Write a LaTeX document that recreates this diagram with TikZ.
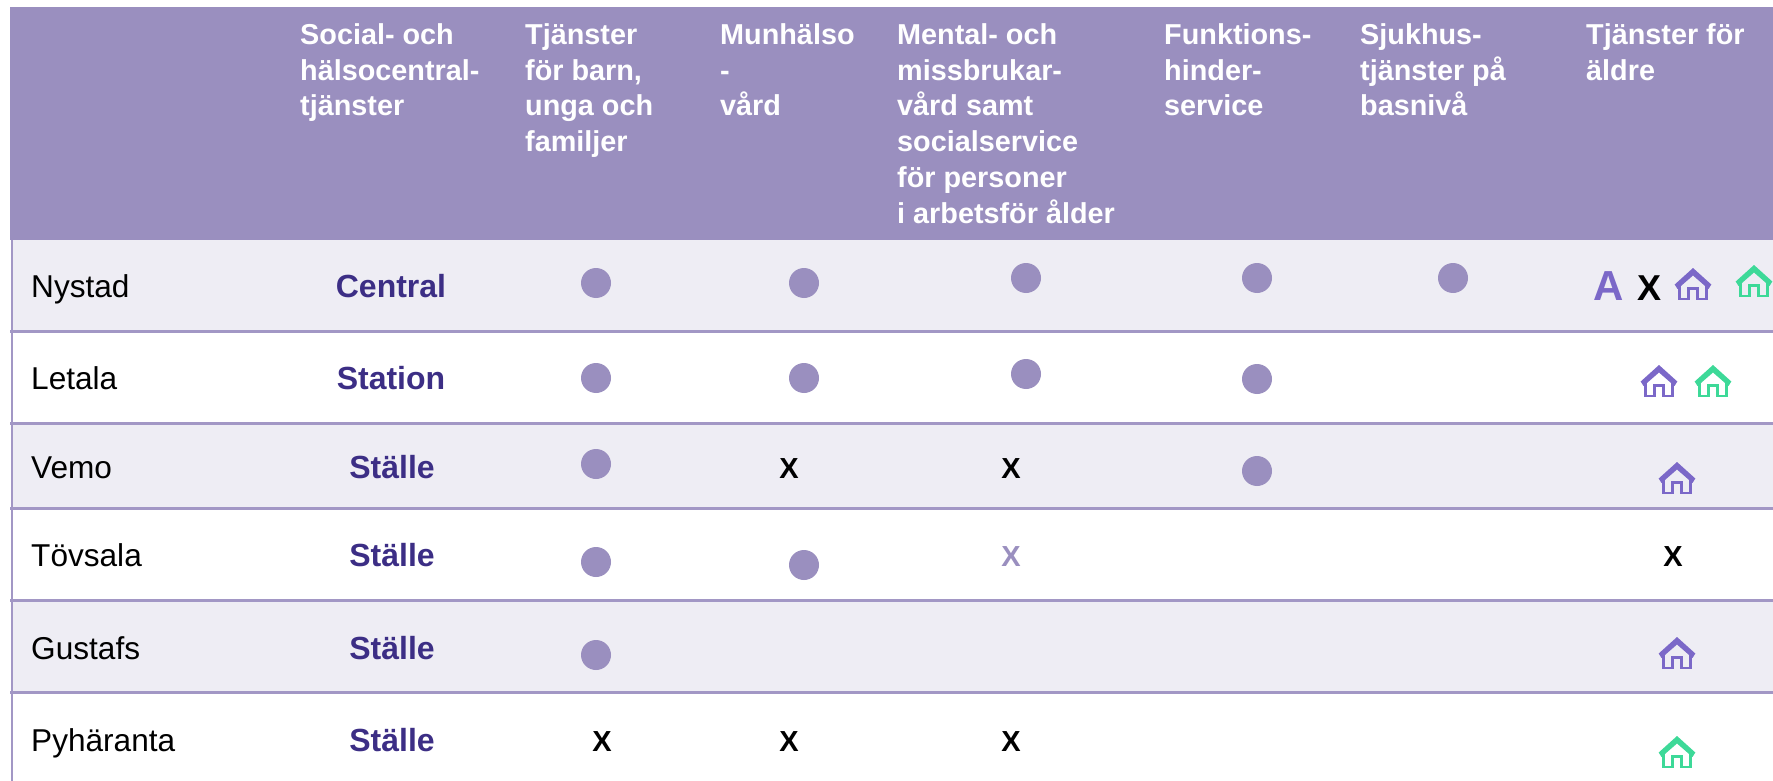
\documentclass[tikz,border=0pt]{standalone}
\usepackage{fontspec}
\setmainfont{Liberation Sans}
\definecolor{hdrcol}{HTML}{9A8FBF}
\definecolor{bandcol}{HTML}{EEEDF4}
\definecolor{rulecol}{HTML}{A297C5}
\definecolor{darkcol}{HTML}{3C2E85}
\definecolor{viocol}{HTML}{7B68C8}
\definecolor{grncol}{HTML}{3DD998}
\tikzset{
  x=1pt,y=-1pt,
  head/.style={anchor=north west,inner sep=0pt,align=left,text=white,font=\fontsize{28.8}{35.7}\selectfont\bfseries,execute at begin node=\rule{0pt}{22pt}},
  town/.style={anchor=base west,inner sep=0pt,font=\fontsize{31.6}{36}\selectfont},
  level/.style={anchor=base,inner sep=0pt,text=darkcol,font=\fontsize{32}{36}\selectfont\bfseries},
  cross/.style={anchor=base,inner sep=0pt,font=\fontsize{29}{34}\selectfont\bfseries},
  dot/.style={circle,fill=hdrcol,minimum size=30pt,inner sep=0pt},
  house/.pic={
    \fill[#1] (0,-16) -- (18.3,0.5) -- (15.5,5) -- (0,-8.5) -- (-15.5,5) -- (-18.3,0.5) -- cycle;
    \draw[line width=2.8pt,#1] (-13.2,2) -- (-13.2,15) -- (-4.3,15) -- (-4.3,4.2) -- (4.3,4.2) -- (4.3,15) -- (13.2,15) -- (13.2,2);
  }
}
\begin{document}
\begin{tikzpicture}
\useasboundingbox (0,0) rectangle (1773,781);
\fill[white] (0,0) rectangle (1773,781);
% bands
\fill[hdrcol] (10,7) rectangle (1773,240);
\fill[bandcol] (11,240) rectangle (1773,331);
\fill[bandcol] (11,423) rectangle (1773,508);
\fill[bandcol] (11,600) rectangle (1773,692);
% rules
\foreach \yy in {331,423,508,600,692}
  \fill[rulecol] (10,\yy-1.5) rectangle (1773,\yy+1.5);
\fill[rulecol] (10.5,240) rectangle (12.5,781);
% header
\node[head] (h1) at (300,23.5) {Social- och\\hälsocentral-\\tjänster};
\node[head] (h2) at (525,23.5) {Tjänster\\för barn,\\unga och\\familjer};
\node[head] (h3) at (720,23.5) {Munhälso\\-\\vård};
\node[head] (h4) at (897,23.5) {Mental- och\\missbrukar-\\vård samt\\socialservice\\för personer\\i arbetsför ålder};
\node[head] (h5) at (1164,23.5) {Funktions-\\hinder-\\service};
\node[head] (h6) at (1360,23.5) {Sjukhus-\\tjänster på\\basnivå};
\node[head] (h7) at (1586,23.5) {Tjänster för\\äldre};
% towns
\node[town] (t1) at (31,297) {Nystad};
\node[town] (t2) at (31,389) {Letala};
\node[town] (t3) at (31,478) {Vemo};
\node[town] (t4) at (31,566) {Tövsala};
\node[town] (t5) at (31,659) {Gustafs};
\node[town] (t6) at (31,751) {Pyhäranta};
% levels
\node[level] (l1) at (391,297) {Central};
\node[level] (l2) at (391,389) {Station};
\node[level] (l3) at (392,478) {Ställe};
\node[level] (l4) at (392,566) {Ställe};
\node[level] (l5) at (392,659) {Ställe};
\node[level] (l6) at (392,751) {Ställe};
% dots
\node[dot] (d11) at (596,283) {};
\node[dot] (d12) at (804,283) {};
\node[dot] (d13) at (1026,278) {};
\node[dot] (d14) at (1257,278) {};
\node[dot] (d15) at (1453,278) {};
\node[dot] (d21) at (596,378) {};
\node[dot] (d22) at (804,378) {};
\node[dot] (d23) at (1026,374) {};
\node[dot] (d24) at (1257,379) {};
\node[dot] (d31) at (596,464) {};
\node[dot] (d34) at (1257,471) {};
\node[dot] (d41) at (596,562) {};
\node[dot] (d42) at (804,565) {};
\node[dot] (d51) at (596,655) {};
% crosses
\node[cross] (x32) at (789,478) {X};
\node[cross] (x33) at (1011,478) {X};
\node[cross,text=hdrcol] (x43) at (1011,566) {X};
\node[cross] (x47) at (1673,566) {X};
\node[cross] (x61) at (602,751) {X};
\node[cross] (x62) at (789,751) {X};
\node[cross] (x63) at (1011,751) {X};
% last column
\node[anchor=base,inner sep=0pt,text=viocol,font=\fontsize{42}{46}\selectfont\bfseries] (a1) at (1609,300) {A};
\node[anchor=base,inner sep=0pt,font=\fontsize{36}{40}\selectfont\bfseries] (x17) at (1649,300) {X};
\pic at (1693,284) {house=viocol};
\pic at (1754,281) {house=grncol};
\pic at (1659,381) {house=viocol};
\pic at (1713,381) {house=grncol};
\pic at (1677,478) {house=viocol};
\pic at (1677,653) {house=viocol};
\pic at (1677,752) {house=grncol};
\end{tikzpicture}
\end{document}
